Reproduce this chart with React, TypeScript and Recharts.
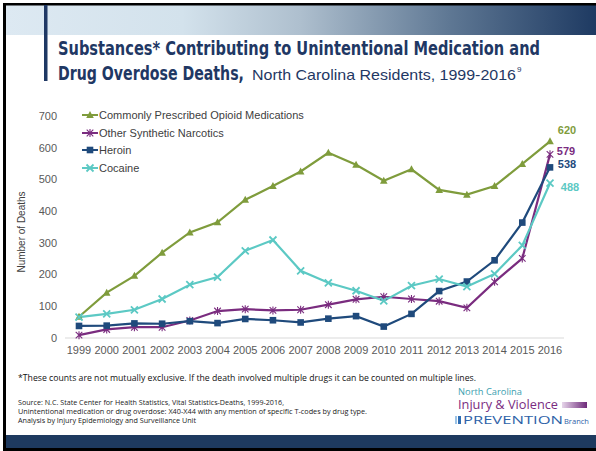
import { LineChart, Line, XAxis, YAxis } from 'recharts';

// ---------------------------------------------------------------------------
// Data
// ---------------------------------------------------------------------------

const years = [
  '1999', '2000', '2001', '2002', '2003', '2004', '2005', '2006', '2007',
  '2008', '2009', '2010', '2011', '2012', '2013', '2014', '2015', '2016',
];

const opioidMeds = [67, 143, 196, 269, 333, 365, 436, 479, 525, 584, 546, 496, 532, 467, 452, 479, 549, 620];
const syntheticNarcotics = [9, 27, 34, 34, 55, 85, 91, 87, 89, 105, 122, 130, 123, 116, 95, 177, 251, 579];
const heroin = [38, 39, 46, 45, 53, 47, 60, 56, 49, 61, 69, 36, 76, 148, 178, 245, 364, 538];
const cocaine = [66, 76, 89, 123, 168, 192, 275, 309, 212, 174, 149, 117, 165, 186, 162, 202, 292, 488];

const yTicks = [0, 100, 200, 300, 400, 500, 600, 700];

type MarkerKind = 'triangle' | 'star' | 'square' | 'cross';

interface SeriesDef {
  key: string;
  name: string;
  color: string;
  marker: MarkerKind;
  labelDx: number;
  labelDy: number;
}

const SERIES: SeriesDef[] = [
  { key: 'opioid', name: 'Commonly Prescribed Opioid Medications', color: '#7F9C3C', marker: 'triangle', labelDx: 17, labelDy: -7 },
  { key: 'synthetic', name: 'Other Synthetic Narcotics', color: '#7A2C7F', marker: 'star', labelDx: 16, labelDy: 1 },
  { key: 'heroin', name: 'Heroin', color: '#1F4A7C', marker: 'square', labelDx: 17, labelDy: 1 },
  { key: 'cocaine', name: 'Cocaine', color: '#5CC9C4', marker: 'cross', labelDx: 20, labelDy: 8 },
];

const chartData = years.map((year, i) => ({
  year,
  opioid: opioidMeds[i],
  synthetic: syntheticNarcotics[i],
  heroin: heroin[i],
  cocaine: cocaine[i],
}));

const TITLE_NAVY = '#1F3864';
const AXIS_TEXT = '#595959';
const FONT = '"Liberation Sans", Arial, sans-serif';
const NARROW = '"Liberation Sans Narrow", "DejaVu Sans Condensed", "Liberation Sans", sans-serif';
const BODY = '"Open Sans", "Lato", sans-serif';

// ---------------------------------------------------------------------------
// Markers
// ---------------------------------------------------------------------------

function Marker({ kind, cx, cy, color }: { kind: MarkerKind; cx: number; cy: number; color: string }) {
  if (kind === 'triangle') {
    return <path d={`M${cx},${cy - 4} L${cx + 3.8},${cy + 3} L${cx - 3.8},${cy + 3} Z`} fill={color} />;
  }
  if (kind === 'square') {
    return <rect x={cx - 3.3} y={cy - 3.3} width={6.6} height={6.6} fill={color} />;
  }
  if (kind === 'cross') {
    return (
      <path
        d={`M${cx - 3.5},${cy - 3.5} L${cx + 3.5},${cy + 3.5} M${cx + 3.5},${cy - 3.5} L${cx - 3.5},${cy + 3.5}`}
        stroke={color}
        strokeWidth={1.8}
      />
    );
  }
  return (
    <path
      d={`M${cx - 3.3},${cy - 3.3} L${cx + 3.3},${cy + 3.3} M${cx + 3.3},${cy - 3.3} L${cx - 3.3},${cy + 3.3} M${cx},${cy - 4} L${cx},${cy + 4}`}
      stroke={color}
      strokeWidth={1.1}
    />
  );
}

// condensed bold title text: scaled horizontally so it fits the narrow look
function NarrowText({ x, y, width, children }: { x: number; y: number; width: number; children: string }) {
  const sx = 0.78;
  return (
    <g transform={`translate(${x} ${y}) scale(${sx} 1)`}>
      <text x={0} y={0} fontFamily={NARROW} fontWeight="bold" fontSize={19.5} fill={TITLE_NAVY} textLength={width / sx} lengthAdjust="spacingAndGlyphs">
        {children}
      </text>
    </g>
  );
}

// ---------------------------------------------------------------------------
// Slide decoration (header, legend, footnotes, logo)
// ---------------------------------------------------------------------------

function SlideBackground() {
  return (
    <svg width={596} height={451} style={{ position: 'absolute', left: 0, top: 0 }}>
      <defs>
        <linearGradient id="band" x1="0" y1="0" x2="1" y2="0">
          <stop offset="0" stopColor="#DDE9F2" />
          <stop offset="0.3" stopColor="#D3E2EC" />
          <stop offset="0.5" stopColor="#AEBFCE" />
          <stop offset="0.75" stopColor="#5F7894" />
          <stop offset="1" stopColor="#1E3A62" />
        </linearGradient>
        <linearGradient id="purpleBars" x1="0" y1="0" x2="1" y2="0">
          <stop offset="0" stopColor="#E6D5EA" />
          <stop offset="1" stopColor="#6E2A7A" />
        </linearGradient>
      </defs>
      <rect x={0} y={0} width={596} height={451} fill="#fff" />
      {/* header band */}
      <rect x={5} y={5} width={591} height={30} fill="url(#band)" />
      <rect x={3} y={3} width={593} height={2.5} fill="#000" />
      <rect x={44} y={5} width={3.5} height={76} fill={TITLE_NAVY} />

      {/* title */}
      <NarrowText x={58} y={55} width={482}>
        Substances* Contributing to Unintentional Medication and
      </NarrowText>
      <NarrowText x={58} y={80} width={186}>
        Drug Overdose Deaths,
      </NarrowText>
      <text x={252} y={80} fontFamily={FONT} fontSize={15} fill={TITLE_NAVY} textLength={264} lengthAdjust="spacingAndGlyphs">
        North Carolina Residents, 1999-2016
      </text>
      <text x={517} y={72} fontFamily={FONT} fontSize={8} fill={TITLE_NAVY}>9</text>

      {/* y axis title */}
      <text x={25} y={232} transform="rotate(-90 25 232)" textAnchor="middle" fontFamily={FONT} fontSize={10} fill="#404040">
        Number of Deaths
      </text>

      {/* legend */}
      {SERIES.map((s, i) => {
        const y = [115, 133, 150, 168][i];
        return (
          <g key={s.key}>
            <line x1={82} x2={98} y1={y} y2={y} stroke={s.color} strokeWidth={2} />
            <Marker kind={s.marker} cx={90} cy={y} color={s.color} />
            <text x={99} y={y + 4} fontFamily={FONT} fontSize={11} fill="#404040">
              {s.name}
            </text>
          </g>
        );
      })}

      {/* footnotes */}
      <text x={18} y={381} fontFamily={BODY} fontSize={9} fill="#111" textLength={458} lengthAdjust="spacingAndGlyphs">
        *These counts are not mutually exclusive. If the death involved multiple drugs it can be counted on multiple lines.
      </text>
      <text x={18} y={405} fontFamily={BODY} fontSize={6.8} fill="#222" textLength={266} lengthAdjust="spacingAndGlyphs">
        Source: N.C. State Center for Health Statistics, Vital Statistics-Deaths, 1999-2016,
      </text>
      <text x={18} y={414} fontFamily={BODY} fontSize={6.8} fill="#222" textLength={349} lengthAdjust="spacingAndGlyphs">
        Unintentional medication or drug overdose: X40-X44 with any mention of specific T-codes by drug type.
      </text>
      <text x={18} y={423} fontFamily={BODY} fontSize={6.8} fill="#222" textLength={178} lengthAdjust="spacingAndGlyphs">
        Analysis by Injury Epidemiology and Surveillance Unit
      </text>

      {/* logo */}
      <text x={458} y={395} fontFamily={BODY} fontSize={8.5} fill="#3C9FB0" textLength={64} lengthAdjust="spacingAndGlyphs">North Carolina</text>
      <text x={458} y={409} fontFamily={BODY} fontSize={12} fill="#7A2C7F" textLength={100} lengthAdjust="spacingAndGlyphs">
        Injury &amp; Violence
      </text>
      <rect x={562} y={402} width={25} height={6} fill="url(#purpleBars)" />
      <rect x={455} y={416} width={2} height={8} fill="#9CC3E6" />
      <rect x={458} y={416} width={3} height={8} fill="#2E6DB4" />
      <text x={463} y={424} fontFamily={BODY} fontSize={11} fill="#2E62A8" textLength={100} lengthAdjust="spacingAndGlyphs">
        PREVENTION
      </text>
      <text x={564} y={424} fontFamily={BODY} fontSize={7} fill="#2E62A8" textLength={25} lengthAdjust="spacingAndGlyphs">
        Branch
      </text>

      {/* bottom band and frame */}
      <rect x={5} y={435} width={591} height={13} fill="#1E3A5F" />
      <rect x={3} y={448} width={593} height={3} fill="#000" />
      <rect x={3} y={3} width={3} height={448} fill="#000" />
    </svg>
  );
}

// ---------------------------------------------------------------------------
// App
// ---------------------------------------------------------------------------

export default function App() {
  const last = years.length - 1;
  return (
    <div style={{ position: 'absolute', left: 0, top: 0, width: 596, height: 451, overflow: 'hidden' }}>
      <SlideBackground />
      <div style={{ position: 'absolute', left: 0, top: 0 }}>
        <LineChart
          width={596}
          height={451}
          data={chartData}
          margin={{ top: 116, right: 32, bottom: 83, left: 5 }}
        >
          <XAxis
            dataKey="year"
            axisLine={{ stroke: '#D9D9D9' }}
            tickLine={false}
            tick={{ fontSize: 11, fill: AXIS_TEXT, fontFamily: FONT }}
            interval={0}
            padding={{ left: 14, right: 14 }}
            height={30}
          />
          <YAxis
            domain={[0, 700]}
            ticks={yTicks}
            axisLine={false}
            tickLine={false}
            width={60}
            tick={{ fontSize: 11, fill: AXIS_TEXT, fontFamily: FONT }}
          />
          {SERIES.map((s) => (
            <Line
              key={s.key}
              dataKey={s.key}
              name={s.name}
              stroke={s.color}
              strokeWidth={2.2}
              type="linear"
              isAnimationActive={false}
              dot={(p: any) => (
                <Marker key={`${s.key}-${p.index}`} kind={s.marker} cx={p.cx} cy={p.cy} color={s.color} />
              )}
              activeDot={false}
              label={(p: any) =>
                p.index === last ? (
                  <text
                    key={`${s.key}-label`}
                    x={p.x + s.labelDx}
                    y={p.y + s.labelDy}
                    textAnchor="middle"
                    fontFamily={FONT}
                    fontWeight="bold"
                    fontSize={11}
                    fill={s.color}
                  >
                    {p.value}
                  </text>
                ) : (
                  <g key={`${s.key}-l${p.index}`} />
                )
              }
            />
          ))}
        </LineChart>
      </div>
    </div>
  );
}
